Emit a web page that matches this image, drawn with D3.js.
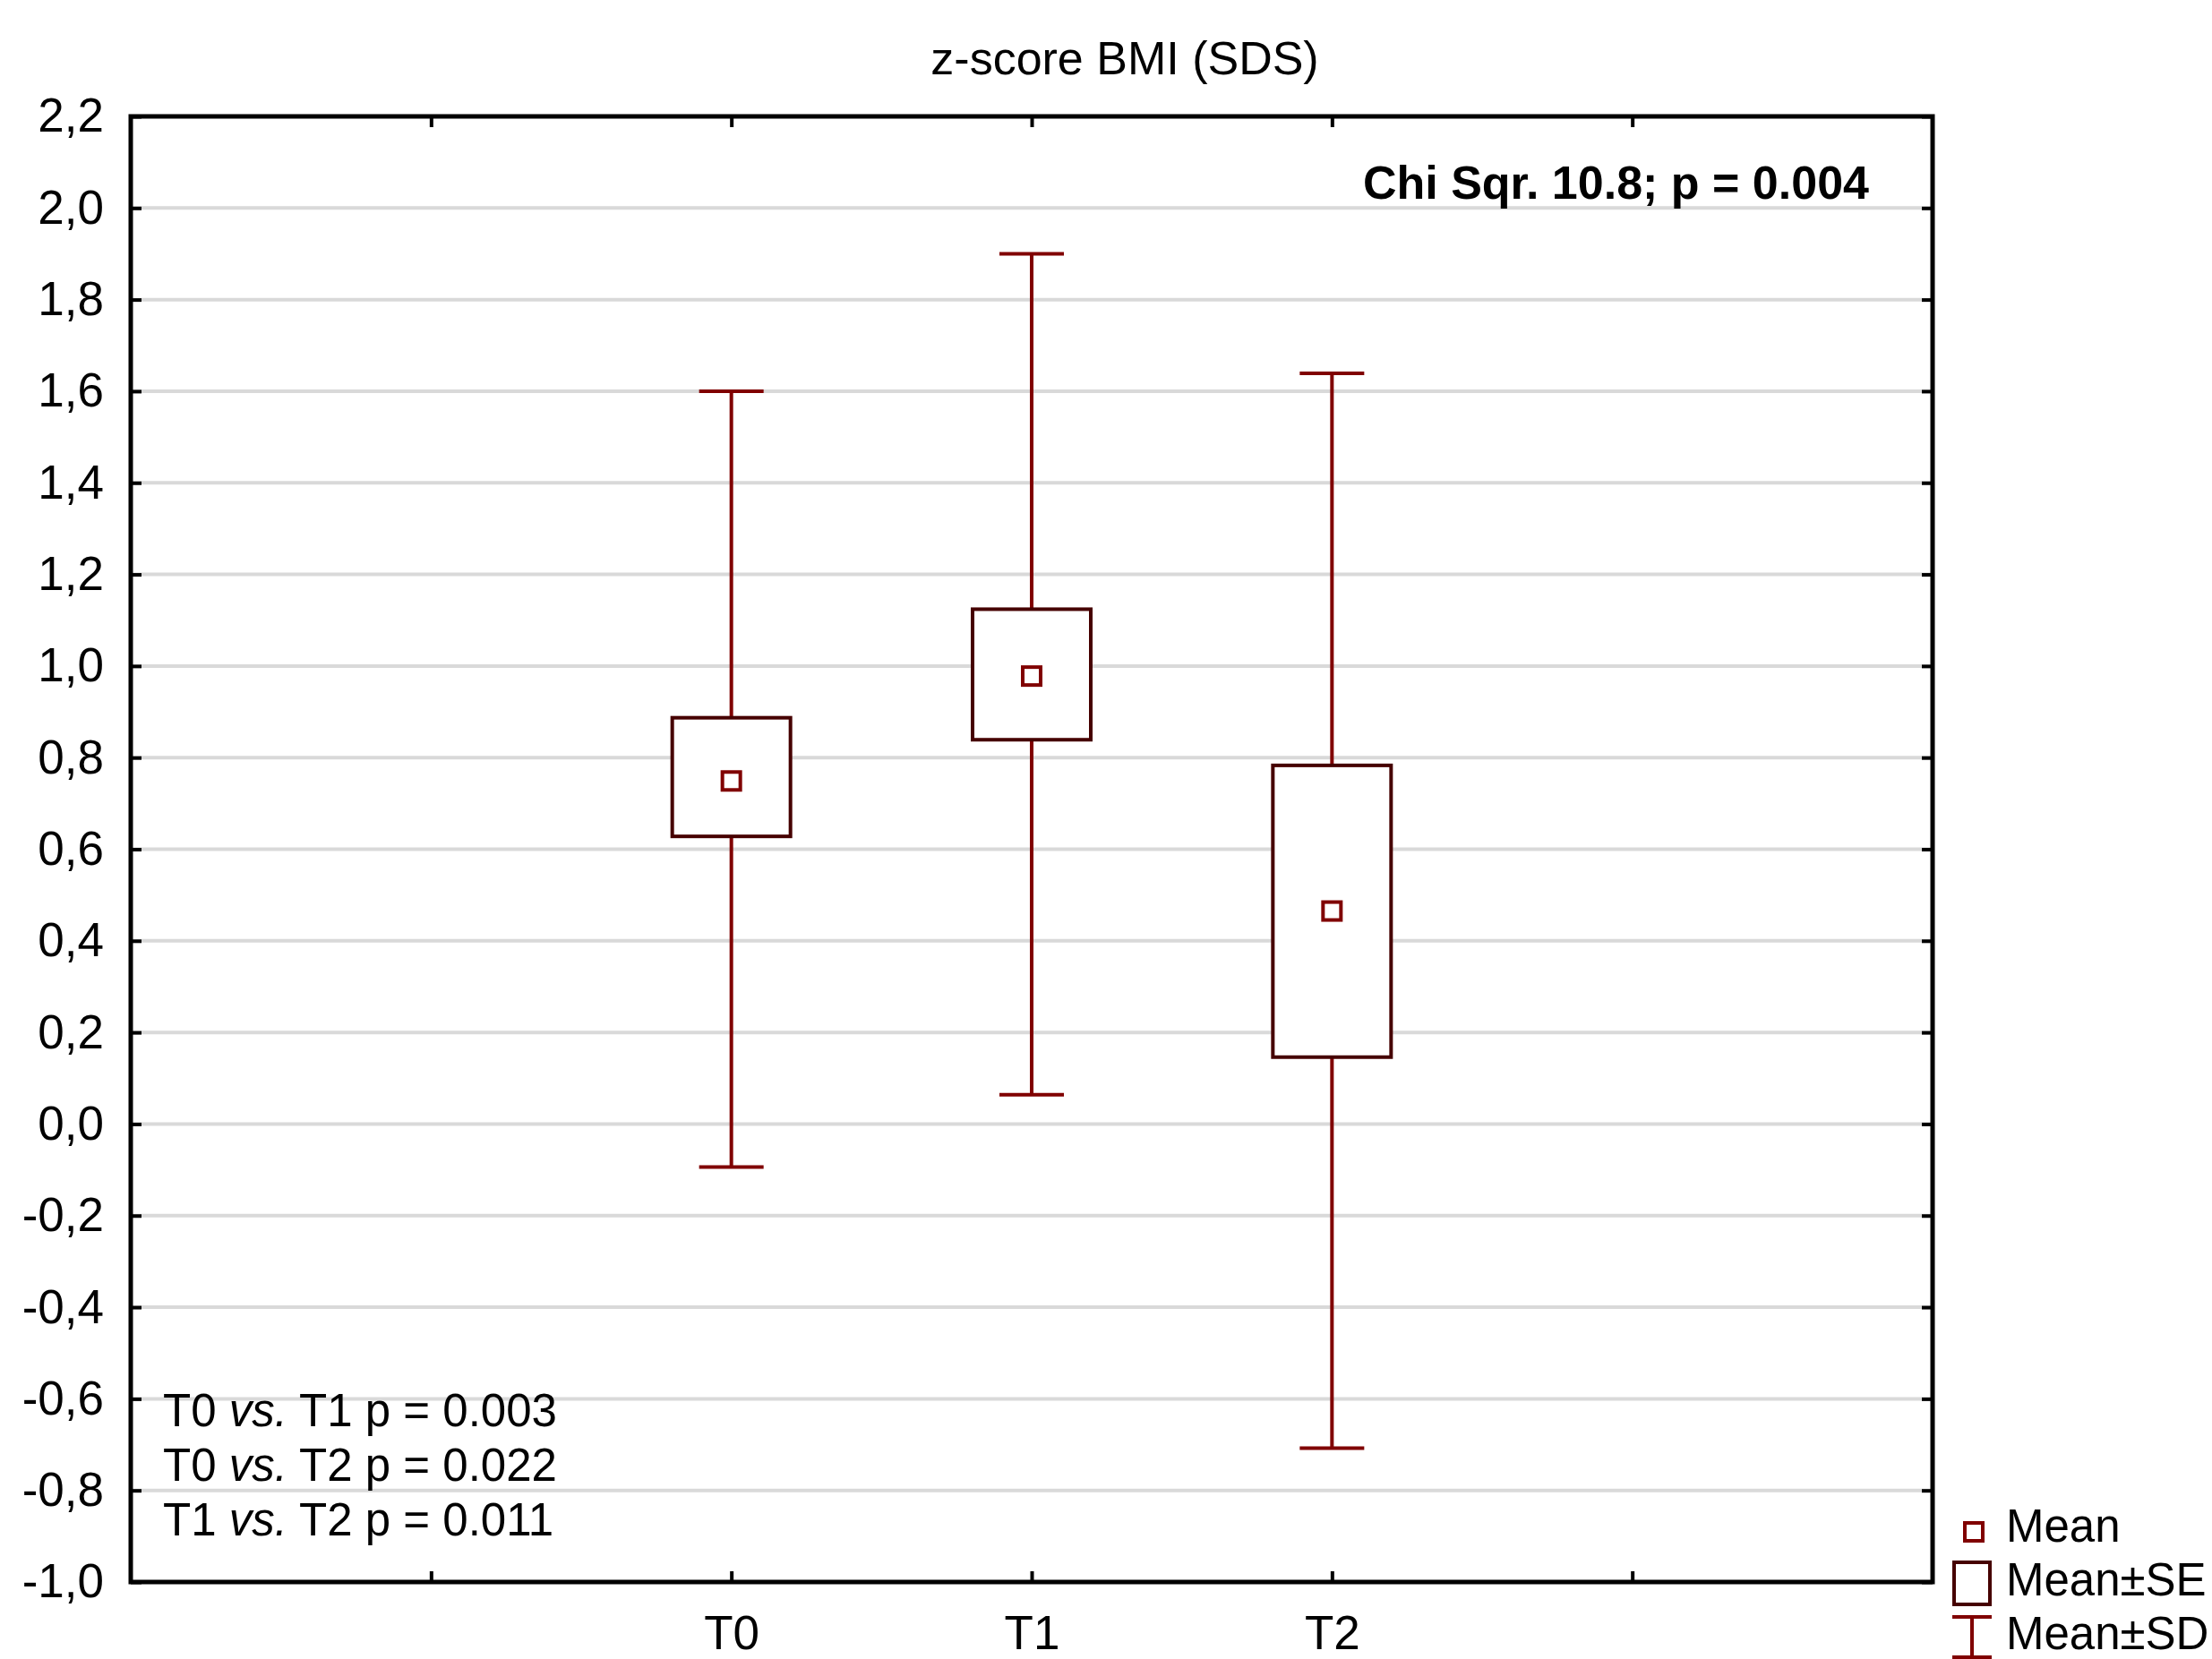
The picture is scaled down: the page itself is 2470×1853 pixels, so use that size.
<!DOCTYPE html>
<html>
<head>
<meta charset="utf-8">
<script src="https://cdnjs.cloudflare.com/ajax/libs/d3/7.8.5/d3.min.js"></script>
<style>
  html, body { margin: 0; padding: 0; background: #fff; }
  svg { display: block; }
  text { font-family: "Liberation Sans", Arial, sans-serif; fill: #000; }
</style>
</head>
<body>
<svg id="chart" width="2470" height="1853"></svg>
<script>
// values
var categories = ["T0", "T1", "T2"];
var catPos = [2, 3, 4];            // slot on the 0..6 x axis
var means = [0.749, 0.978, 0.465];
var seLow = [0.628, 0.839, 0.146];
var seHigh = [0.887, 1.124, 0.783];
var sdLow = [-0.094, 0.064, -0.708];
var sdHigh = [1.600, 1.900, 1.639];
var yTicks = [-1.0, -0.8, -0.6, -0.4, -0.2, 0.0, 0.2, 0.4, 0.6, 0.8, 1.0, 1.2, 1.4, 1.6, 1.8, 2.0, 2.2];
var xTicks = [1, 2, 3, 4, 5];
var pairTests = [["T0", "T1", "0.003"], ["T0", "T2", "0.022"], ["T1", "T2", "0.011"]];
var legendLabels = ["Mean", "Mean\u00b1SE", "Mean\u00b1SD"];

var svg = d3.select("#chart"),
    margin = {top: 130, right: 312, bottom: 86, left: 146},
    width = +svg.attr("width") - margin.left - margin.right,
    height = +svg.attr("height") - margin.top - margin.bottom,
    g = svg.append("g").attr("transform", "translate(" + margin.left + "," + margin.top + ")");

var x = d3.scaleLinear().domain([0, 6]).range([0, width]);
var y = d3.scaleLinear().domain([-1.0, 2.2]).range([height, 0]);

var whiskerCol = "#800000", boxCol = "#460000";
var fmt = function(d) { return d3.format(".1f")(d).replace(".", ",").replace("\u2212", "-"); };

var data = categories.map(function(c, i) {
  return {name: c, pos: catPos[i], mean: means[i], seLo: seLow[i], seHi: seHigh[i], sdLo: sdLow[i], sdHi: sdHigh[i]};
});

// grid lines
g.append("g")
  .selectAll("line")
  .data(yTicks.slice(1, -1))
  .enter().append("line")
    .attr("x1", 0).attr("x2", width)
    .attr("y1", function(d) { return y(d); })
    .attr("y2", function(d) { return y(d); })
    .attr("stroke", "#d9d9d9")
    .attr("stroke-width", 4);

// left axis (ticks inward) + labels
g.append("g")
  .call(d3.axisLeft(y).tickValues(yTicks).tickSize(-12).tickPadding(30).tickFormat(fmt))
  .call(function(a) {
    a.select(".domain").remove();
    a.selectAll(".tick line").attr("stroke", "#000").attr("stroke-width", 4);
    a.selectAll(".tick text").attr("font-size", 53).attr("font-family", "Liberation Sans, Arial, sans-serif");
  });

// right axis ticks
g.append("g")
  .attr("transform", "translate(" + width + ",0)")
  .call(d3.axisRight(y).tickValues(yTicks).tickSize(-12).tickFormat(""))
  .call(function(a) {
    a.select(".domain").remove();
    a.selectAll(".tick line").attr("stroke", "#000").attr("stroke-width", 4);
  });

// top axis ticks
g.append("g")
  .call(d3.axisTop(x).tickValues(xTicks).tickSize(-12).tickFormat(""))
  .call(function(a) {
    a.select(".domain").remove();
    a.selectAll(".tick line").attr("stroke", "#000").attr("stroke-width", 4);
  });

// bottom axis ticks + category labels
g.append("g")
  .attr("transform", "translate(0," + height + ")")
  .call(d3.axisBottom(x).tickValues(xTicks).tickSize(-12).tickPadding(37)
    .tickFormat(function(d) { var i = catPos.indexOf(d); return i < 0 ? "" : categories[i]; }))
  .call(function(a) {
    a.select(".domain").remove();
    a.selectAll(".tick line").attr("stroke", "#000").attr("stroke-width", 4);
    a.selectAll(".tick text").attr("font-size", 53).attr("font-family", "Liberation Sans, Arial, sans-serif");
  });

// frame
g.append("rect")
  .attr("width", width).attr("height", height)
  .attr("fill", "none").attr("stroke", "#000").attr("stroke-width", 5);

var capW = 72, boxW = 132, meanW = 20;

var grp = g.append("g").selectAll("g").data(data).enter().append("g");

// whiskers (mean +- SD)
grp.append("line")
  .attr("x1", function(d) { return x(d.pos); }).attr("x2", function(d) { return x(d.pos); })
  .attr("y1", function(d) { return y(d.sdHi); }).attr("y2", function(d) { return y(d.sdLo); })
  .attr("stroke", whiskerCol).attr("stroke-width", 4);
grp.selectAll(".cap")
  .data(function(d) { return [[d.pos, d.sdHi], [d.pos, d.sdLo]]; })
  .enter().append("line")
    .attr("class", "cap")
    .attr("x1", function(d) { return x(d[0]) - capW / 2; })
    .attr("x2", function(d) { return x(d[0]) + capW / 2; })
    .attr("y1", function(d) { return y(d[1]); })
    .attr("y2", function(d) { return y(d[1]); })
    .attr("stroke", whiskerCol).attr("stroke-width", 4);

// SE boxes
grp.append("rect")
  .attr("x", function(d) { return x(d.pos) - boxW / 2; })
  .attr("y", function(d) { return y(d.seHi); })
  .attr("width", boxW)
  .attr("height", function(d) { return y(d.seLo) - y(d.seHi); })
  .attr("fill", "#fff").attr("stroke", boxCol).attr("stroke-width", 4);

// mean markers
grp.append("rect")
  .attr("x", function(d) { return x(d.pos) - meanW / 2; })
  .attr("y", function(d) { return y(d.mean) - meanW / 2; })
  .attr("width", meanW).attr("height", meanW)
  .attr("fill", "#fff").attr("stroke", whiskerCol).attr("stroke-width", 4);

// title
svg.append("text")
  .attr("x", 1256).attr("y", 83)
  .attr("text-anchor", "middle")
  .attr("font-size", 52)
  .text("z-score BMI (SDS)");

// test result
g.append("text")
  .attr("x", width - 71).attr("y", 92)
  .attr("text-anchor", "end")
  .attr("font-size", 52)
  .attr("font-weight", "bold")
  .text("Chi Sqr. 10.8; p = 0.004");

// pairwise tests
var pt = g.append("g").selectAll("text").data(pairTests).enter().append("text")
  .attr("x", 36)
  .attr("y", function(d, i) { return 1463 + i * 61; })
  .attr("font-size", 51);
pt.append("tspan").text(function(d) { return d[0] + " "; });
pt.append("tspan").attr("font-style", "italic").text("vs.");
pt.append("tspan").text(function(d) { return " " + d[1] + " p = " + d[2]; });

// legend
var legend = svg.append("g")
  .attr("transform", "translate(2202,1711)");
legend.append("rect")
  .attr("x", -meanW / 2 + 2).attr("y", -meanW / 2)
  .attr("width", meanW).attr("height", meanW)
  .attr("fill", "#fff").attr("stroke", whiskerCol).attr("stroke-width", 4);
legend.append("rect")
  .attr("x", -20).attr("y", 34)
  .attr("width", 40).attr("height", 47)
  .attr("fill", "#fff").attr("stroke", boxCol).attr("stroke-width", 4);
legend.append("line")
  .attr("x1", 0).attr("x2", 0).attr("y1", 95).attr("y2", 142)
  .attr("stroke", whiskerCol).attr("stroke-width", 4);
legend.selectAll(".lcap").data([95, 140]).enter().append("line")
  .attr("class", "lcap")
  .attr("x1", -22).attr("x2", 22)
  .attr("y1", function(d) { return d; }).attr("y2", function(d) { return d; })
  .attr("stroke", whiskerCol).attr("stroke-width", 4);
legend.selectAll(".ltext").data(legendLabels).enter().append("text")
  .attr("class", "ltext")
  .attr("x", 38)
  .attr("y", function(d, i) { return 11 + i * 60; })
  .attr("font-size", 51)
  .text(function(d) { return d; });
</script>
</body>
</html>
